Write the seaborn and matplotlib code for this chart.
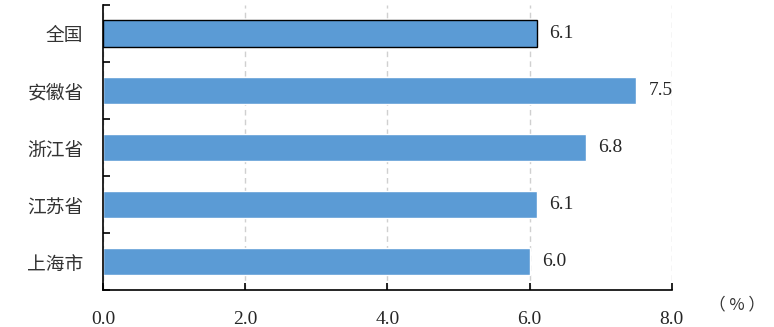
import matplotlib
matplotlib.use("Agg")
import matplotlib.pyplot as plt
import seaborn as sns
import pandas as pd

# Chart data
regions = ["全国", "安徽省", "浙江省", "江苏省", "上海市"]
growth = [6.1, 7.5, 6.8, 6.1, 6.0]
x_ticks = [0.0, 2.0, 4.0, 6.0, 8.0]

BAR_COLOR = "#5B9BD5"

sns.set_style("white")
plt.rcParams["font.family"] = ["Liberation Serif", "Noto Sans CJK SC", "DejaVu Sans"]


def main():
    df = pd.DataFrame({"region": regions, "growth": growth})

    fig = plt.figure(figsize=(7.74, 3.27), dpi=100)
    ax = fig.add_axes([0.133, 0.113, 0.735, 0.872])

    sns.barplot(
        data=df, x="growth", y="region", orient="h",
        color=BAR_COLOR, saturation=1, width=0.46, ax=ax,
    )

    # Only the national bar carries a black outline
    ax.patches[0].set_edgecolor("black")
    ax.patches[0].set_linewidth(1.0)

    # Value labels at the bar ends
    for bar, v in zip(ax.patches, growth):
        ax.text(
            bar.get_width() + 0.17, bar.get_y() + bar.get_height() / 2,
            f"{v:.1f}", va="center", ha="left", fontsize=14,
            family="Liberation Serif",
        )

    ax.set_xlim(0, 8)
    ax.set_ylim(len(regions) - 0.5, -0.5)
    ax.set_xticks(x_ticks, labels=[f"{t:.1f}" for t in x_ticks])
    ax.set_yticks([i - 0.5 for i in range(len(regions) + 1)], minor=False)
    ax.set_yticks(range(len(regions)), labels=regions, minor=True)
    ax.tick_params(axis="y", which="major", left=True, labelleft=False,
                   direction="in", length=5, width=1.2, color="black")
    ax.tick_params(axis="y", which="minor", left=False, length=0, pad=14,
                   labelsize=13.5)
    for lbl in ax.get_yticklabels(minor=True):
        lbl.set_family(["Noto Sans CJK SC"])
        lbl.set_color("#333333")
    ax.tick_params(axis="x", bottom=True, direction="in", length=5,
                   width=1.2, labelsize=14, pad=15, color="black")

    ax.grid(axis="x", linestyle=(0, (4, 3)), color="#d0d0d0", linewidth=1)
    ax.set_axisbelow(True)

    for side in ["top", "right"]:
        ax.spines[side].set_visible(False)
    for side in ["left", "bottom"]:
        ax.spines[side].set_color("black")
        ax.spines[side].set_linewidth(1.2)

    ax.set_xlabel("")
    ax.set_ylabel("")

    fig.text(0.952, 0.067, "（ % ）", fontsize=12, ha="center", va="center",
             family=["Noto Sans CJK SC"], color="#333333")

    fig.savefig("out.png", dpi=100)


if __name__ == "__main__":
    main()
